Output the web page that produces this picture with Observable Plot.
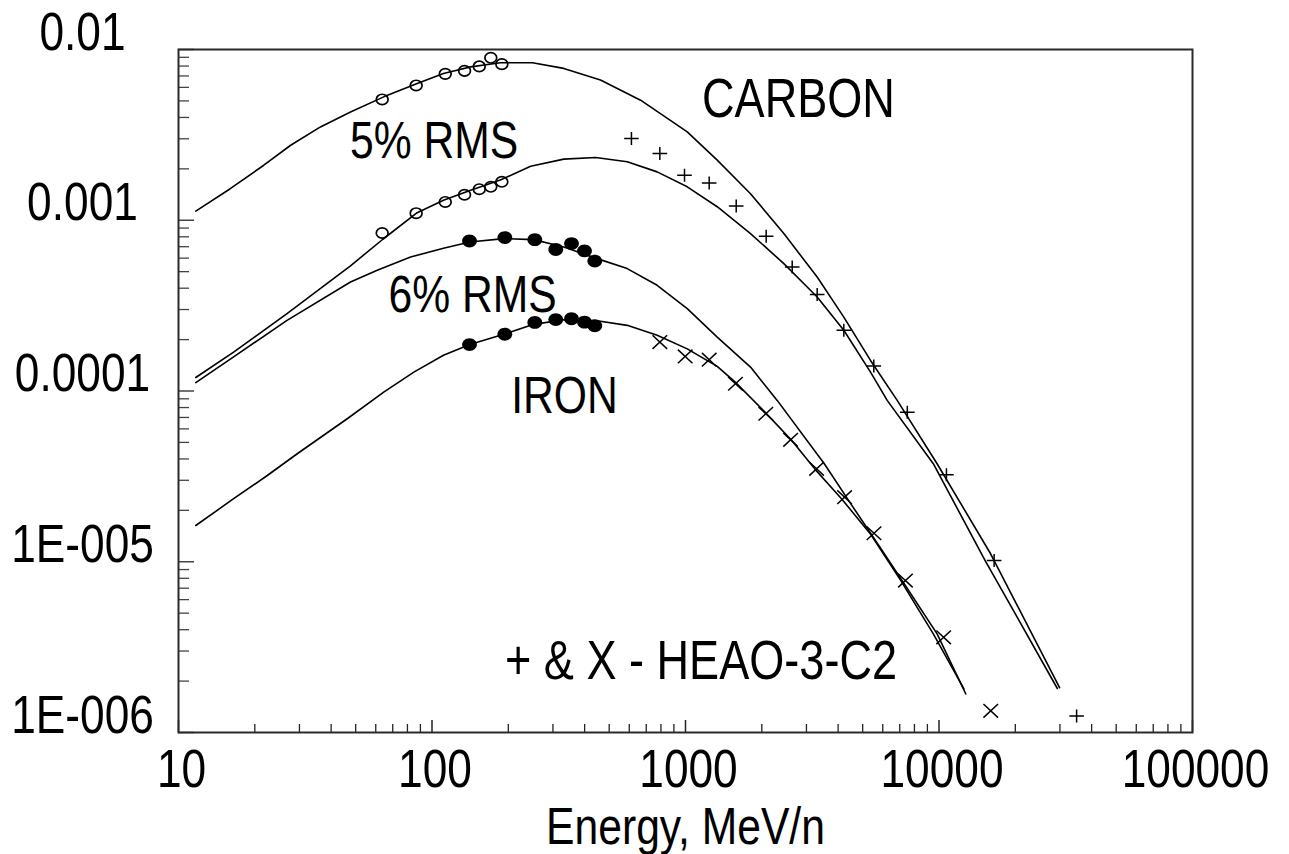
<!DOCTYPE html>
<html><head><meta charset="utf-8">
<script src="https://cdn.jsdelivr.net/npm/d3@7"></script>
<script src="https://cdn.jsdelivr.net/npm/@observablehq/plot@0.6"></script>
<style>html,body{margin:0;padding:0;background:#fff;}</style>
</head><body><div id="chart"></div>
<script>
// ---------- DATA (energy MeV/n, flux) ----------
const carbonUpperCurve = [[11.7,1.13e-3],[16.0,1.53e-3],[21.7,2.10e-3],[27.7,2.75e-3],[36.3,3.52e-3],[47.7,4.31e-3],[64.5,5.28e-3],[87.4,6.33e-3],[111,7.24e-3],[142,7.91e-3],[186,8.36e-3],[249,8.36e-3],[331,7.75e-3],[462,6.62e-3],[665,5.05e-3],[1016,3.29e-3],[1334,2.25e-3],[1805,1.43e-3],[2443,8.36e-4],[3307,4.65e-4],[4212,2.71e-4],[5369,1.51e-4],[6841,8.81e-5],[9829,3.75e-5],[16000,1.11e-5],[29900,1.83e-6]];
const carbonLowerCurve = [[11.7,1.20e-4],[16.5,1.69e-4],[26.8,2.84e-4],[38.6,4.27e-4],[47.7,5.41e-4],[64.0,7.74e-4],[87.4,1.107e-3],[111,1.31e-3],[142,1.50e-3],[186,1.72e-3],[245,2.07e-3],[331,2.28e-3],[442,2.33e-3],[589,2.20e-3],[773,1.92e-3],[1016,1.57e-3],[1334,1.20e-3],[1805,8.36e-4],[2443,5.57e-4],[3307,3.55e-4],[4212,2.27e-4],[5369,1.29e-4],[6246,8.81e-5],[9496,3.75e-5],[15190,1.02e-5],[29300,1.81e-6]];
const ironUpperCurve = [[11.7,1.12e-4],[16.5,1.585e-4],[26.8,2.59e-4],[47.7,4.35e-4],[60.8,5.09e-4],[82.3,6.09e-4],[111,6.85e-4],[141,7.46e-4],[192,7.81e-4],[252,7.70e-4],[331,6.97e-4],[448,5.96e-4],[589,5.21e-4],[773,4.16e-4],[1016,3.04e-4],[1334,2.07e-4],[1805,1.38e-4],[2300,8.81e-5],[3528,3.75e-5],[4579,2.09e-5],[5841,1.22e-5],[7442,7.09e-6],[9829,3.78e-6],[12760,1.68e-6]];
const ironLowerCurve = [[11.7,1.63e-5],[16.5,2.34e-5],[22.4,3.20e-5],[29.4,4.29e-5],[46.3,6.88e-5],[64.5,9.85e-5],[84.8,1.29e-4],[111,1.62e-4],[141,1.87e-4],[192,2.15e-4],[252,2.457e-4],[331,2.611e-4],[448,2.576e-4],[589,2.424e-4],[773,2.118e-4],[1016,1.765e-4],[1334,1.394e-4],[1575,1.123e-4],[2058,7.52e-5],[2626,5.13e-5],[3233,3.50e-5],[4125,2.34e-5],[5353,1.46e-5],[7070,7.76e-6],[9496,3.78e-6],[12540,1.80e-6]];

const carbonOpenEnergy = [63.6, 86.6, 112.8, 134.4, 153.6, 170.6, 188.6];
const carbonOpenUpper = [5.10e-3, 6.16e-3, 7.20e-3, 7.50e-3, 7.96e-3, 8.94e-3, 8.21e-3];
const carbonOpenLower = [8.42e-4, 1.10e-3, 1.28e-3, 1.41e-3, 1.52e-3, 1.57e-3, 1.68e-3];
const ironFilledEnergy = [140.6, 193.8, 254.4, 307.8, 355.1, 399.5, 438.7];
const ironFilledUpper = [7.56e-4, 7.92e-4, 7.70e-4, 6.74e-4, 7.30e-4, 6.61e-4, 5.77e-4];
const ironFilledLower = [1.87e-4, 2.15e-4, 2.52e-4, 2.62e-4, 2.65e-4, 2.53e-4, 2.41e-4];
const heaoCarbonEnergy = [612, 792, 991, 1240, 1585, 2081, 2636, 3307, 4212, 5531, 7500, 10700, 16500, 34900];
const heaoCarbonFlux = [3.01e-3, 2.46e-3, 1.835e-3, 1.655e-3, 1.213e-3, 8.06e-4, 5.32e-4, 3.67e-4, 2.265e-4, 1.40e-4, 7.52e-5, 3.23e-5, 1.016e-5, 1.25e-6];
const heaoIronEnergy = [792, 997, 1240, 1574, 2074, 2598, 3290, 4242, 5541, 7372, 10430, 16000];
const heaoIronFlux = [1.935e-4, 1.595e-4, 1.526e-4, 1.103e-4, 7.36e-5, 5.18e-5, 3.50e-5, 2.39e-5, 1.469e-5, 7.76e-6, 3.61e-6, 1.34e-6];

const xTickValues = [10, 100, 1000, 10000, 100000];
const xTickLabels = ["10", "100", "1000", "10000", "100000"];
const yTickValues = [1e-2, 1e-3, 1e-4, 1e-5, 1e-6];
const yTickLabels = ["0.01", "0.001", "0.0001", "1E-005", "1E-006"];
const xTitle = "Energy, MeV/n";
const annotText = ["CARBON", "5% RMS", "6% RMS", "IRON", "+ & X - HEAO-3-C2"];
const annotEnergy = [2790, 102, 144.5, 333, 1151];
const annotFlux = [4.02e-3, 2.31e-3, 2.89e-4, 7.39e-5, 2.07e-6];

// ---------- BUILD ----------
const FONT = '"Liberation Sans",Arial,"DejaVu Sans",sans-serif';
const NARROW = 0.82; // horizontal squeeze to mimic a narrow face
const curves = [carbonUpperCurve, carbonLowerCurve, ironUpperCurve, ironLowerCurve]
  .flatMap((c, k) => c.map(([e, f]) => ({e, f, k})));
const zipPts = (E, F) => E.map((e, i) => ({e, f: F[i]}));
const minorTicks = (lo, hi) => { const t = []; for (let d = lo; d < hi; d *= 10) for (let m = 2; m <= 9; m++) t.push(d * m); return t; };
const xMinor = minorTicks(10, 100000);
const yMinor = minorTicks(1e-6, 1e-2);

const ellipse = (rx, ry) => ({draw(ctx) {
  const kx = rx * 0.5523, ky = ry * 0.5523;
  ctx.moveTo(rx, 0);
  ctx.bezierCurveTo(rx, ky, kx, ry, 0, ry);
  ctx.bezierCurveTo(-kx, ry, -rx, ky, -rx, 0);
  ctx.bezierCurveTo(-rx, -ky, -kx, -ry, 0, -ry);
  ctx.bezierCurveTo(kx, -ry, rx, -ky, rx, 0);
  ctx.closePath();
}});
const plusSym = {draw(ctx) { ctx.moveTo(-7.3, 0); ctx.lineTo(7.3, 0); ctx.moveTo(0, -6.5); ctx.lineTo(0, 6.5); }};
const timesSym = {draw(ctx) { ctx.moveTo(-7.3, -6.8); ctx.lineTo(7.3, 6.8); ctx.moveTo(-7.3, 6.8); ctx.lineTo(7.3, -6.8); }};
const annotSize = {"CARBON": 55, "5% RMS": 52, "6% RMS": 52, "IRON": 52, "+ & X - HEAO-3-C2": 55};
const annots = annotText.map((t, i) => ({t, e: annotEnergy[i], f: annotFlux[i]}));

const chart = Plot.plot({
  width: 1289, height: 854,
  marginLeft: 178, marginRight: 97, marginTop: 49, marginBottom: 122,
  x: {type: "log", domain: [10, 100000]},
  y: {type: "log", domain: [1e-6, 1e-2]},
  style: {fontFamily: FONT, background: "#fff", color: "#000", overflow: "visible"},
  marks: [
    // ticks (inward)
    Plot.axisX({ticks: xMinor, tickSize: 8, dy: -8, fill: "none", label: null, stroke: "#222", strokeWidth: 1.3}),
    Plot.axisX({ticks: xTickValues, tickSize: 12, dy: -12, fill: "none", label: null, stroke: "#222", strokeWidth: 1.5}),
    Plot.axisY({ticks: yMinor, tickSize: 11, dx: 11, fill: "none", label: null, stroke: "#444", strokeWidth: 1.3}),
    Plot.axisY({ticks: yTickValues, tickSize: 16, dx: 16, fill: "none", label: null, stroke: "#444", strokeWidth: 1.5}),
    Plot.frame({stroke: "#2a2a2a", strokeWidth: 2}),
    // tick labels
    Plot.text(xTickValues.map((v, i) => ({v, l: xTickLabels[i]})), {x: "v", text: "l", frameAnchor: "bottom", dy: 54, dx: 3, lineAnchor: "bottom", fontSize: 54, fill: "#000"}),
    Plot.text(yTickValues.map((v, i) => ({v, l: yTickLabels[i]})), {y: "v", text: "l", frameAnchor: "left", dx: -96, textAnchor: "middle", lineAnchor: "bottom", fontSize: 54, fill: "#000"}),
    Plot.text([xTitle], {text: d => d, frameAnchor: "bottom", dy: 111, lineAnchor: "bottom", fontSize: 52, fill: "#000"}),
    // curves
    Plot.line(curves, {x: "e", y: "f", z: "k", stroke: "#000", strokeWidth: 1.6, curve: "linear"}),
    // data points
    Plot.dot(zipPts(carbonOpenEnergy, carbonOpenUpper), {x: "e", y: "f", symbol: ellipse(5.9, 5.2), fill: "none", stroke: "#000", strokeWidth: 1.7}),
    Plot.dot(zipPts(carbonOpenEnergy, carbonOpenLower), {x: "e", y: "f", symbol: ellipse(5.9, 5.2), fill: "none", stroke: "#000", strokeWidth: 1.7}),
    Plot.dot(zipPts(ironFilledEnergy, ironFilledUpper), {x: "e", y: "f", symbol: ellipse(7.4, 6.4), fill: "#000", stroke: "none"}),
    Plot.dot(zipPts(ironFilledEnergy, ironFilledLower), {x: "e", y: "f", symbol: ellipse(7.4, 6.4), fill: "#000", stroke: "none"}),
    Plot.dot(zipPts(heaoCarbonEnergy, heaoCarbonFlux), {x: "e", y: "f", symbol: plusSym, fill: "none", stroke: "#000", strokeWidth: 1.5}),
    Plot.dot(zipPts(heaoIronEnergy, heaoIronFlux), {x: "e", y: "f", symbol: timesSym, fill: "none", stroke: "#000", strokeWidth: 1.5}),
    // annotations
    Plot.text(annots, {x: "e", y: "f", text: "t", lineAnchor: "bottom", fontSize: d => annotSize[d.t], fill: "#000"})
  ]
});
document.getElementById("chart").appendChild(chart);

// squeeze every text horizontally about its own anchor (narrow typeface look)
chart.querySelectorAll("text").forEach(el => {
  const bb = el.getBBox();
  const anchor = getComputedStyle(el).textAnchor;
  const ax = anchor === "middle" ? bb.x + bb.width / 2 : anchor === "end" ? bb.x + bb.width : bb.x;
  const t = el.getAttribute("transform") || "";
  el.setAttribute("transform", `${t} translate(${ax},0) scale(${NARROW},1) translate(${-ax},0)`.trim());
});
</script></body></html>
